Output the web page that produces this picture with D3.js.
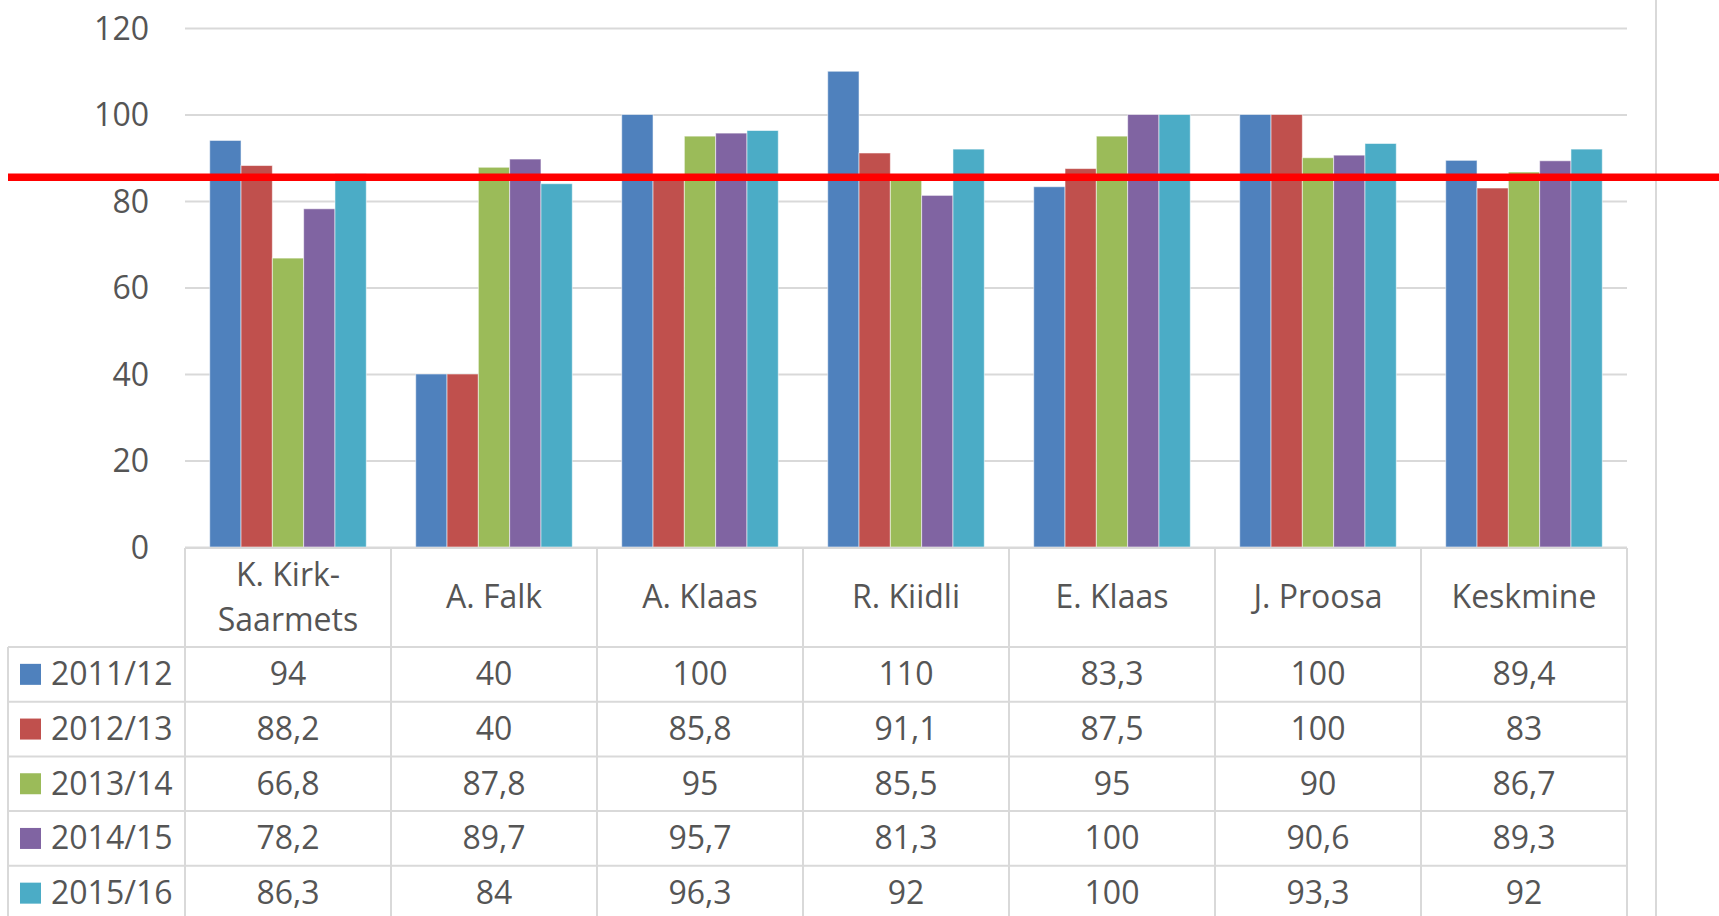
<!DOCTYPE html>
<html>
<head>
<meta charset="utf-8">
<script src="https://cdn.jsdelivr.net/npm/d3@7"></script>
<style>
  body { margin: 0; background: #fff; }
  text { font-family: "Open Sans", sans-serif; fill: #555555; }
</style>
</head>
<body>
<svg id="chart"></svg>
<script>
// data
const categories = ["K. Kirk-Saarmets", "A. Falk", "A. Klaas", "R. Kiidli", "E. Klaas", "J. Proosa", "Keskmine"];
const seriesNames = ["2011/12", "2012/13", "2013/14", "2014/15", "2015/16"];
const values2011 = [94, 40, 100, 110, 83.3, 100, 89.4];
const values2012 = [88.2, 40, 85.8, 91.1, 87.5, 100, 83];
const values2013 = [66.8, 87.8, 95, 85.5, 95, 90, 86.7];
const values2014 = [78.2, 89.7, 95.7, 81.3, 100, 90.6, 89.3];
const values2015 = [86.3, 84, 96.3, 92, 100, 93.3, 92];
const seriesColors = ["#4f81bd", "#c0504d", "#9bbb59", "#8064a2", "#4bacc6"];
const yTicks = [0, 20, 40, 60, 80, 100, 120];
const targetValue = 85.5;

const seriesValues = [values2011, values2012, values2013, values2014, values2015];

const W = 1719, H = 916;
const plot = { left: 185, right: 1627, top: 28, bottom: 547 };
const tableLeft = 8;
const headerBottom = 647;
const rowH = 54.7;
const fontSize = 32;
const grid = "#d9d9d9";

const svg = d3.select("#chart").attr("width", W).attr("height", H);

const x0 = d3.scaleBand().domain(categories).range([plot.left, plot.right]).padding(0);
const gap = x0.bandwidth() * 0.12;
const x1 = d3.scaleBand().domain(seriesNames).range([gap, x0.bandwidth() - gap]).padding(0);
const y = d3.scaleLinear().domain([0, 120]).range([plot.bottom, plot.top]);

// outer right border line
svg.append("line")
    .attr("x1", 1656).attr("x2", 1656)
    .attr("y1", 0).attr("y2", H)
    .attr("stroke", grid).attr("stroke-width", 2);

// y axis with gridlines
const yAxis = d3.axisLeft(y).tickValues(yTicks)
    .tickSize(-(plot.right - plot.left)).tickPadding(36);

const yAxisG = svg.append("g")
    .attr("transform", `translate(${plot.left},0)`)
    .call(yAxis);
yAxisG.select(".domain").remove();
yAxisG.selectAll(".tick line").attr("stroke", grid).attr("stroke-width", 2);
yAxisG.selectAll(".tick text")
    .attr("font-size", fontSize)
    .attr("fill", "#555555")
    .attr("font-family", "'Open Sans', sans-serif")
    .attr("dy", "0.35em");

// bars
const groups = svg.append("g").selectAll("g")
    .data(categories)
    .join("g")
    .attr("transform", d => `translate(${x0(d)},0)`);

groups.selectAll("rect")
    .data((c, ci) => seriesNames.map((s, si) => ({ s, si, v: seriesValues[si][ci] })))
    .join("rect")
    .attr("x", d => x1(d.s))
    .attr("width", x1.bandwidth())
    .attr("y", d => y(d.v))
    .attr("height", d => y(0) - y(d.v))
    .attr("fill", d => seriesColors[d.si])
    .attr("stroke", "rgba(255,255,255,0.55)")
    .attr("stroke-width", 1);

// data table
const table = svg.append("g");
const rowTop = i => headerBottom + i * rowH;
const tableBottom = rowTop(seriesNames.length);

// horizontal lines
table.append("line")
    .attr("x1", plot.left).attr("x2", plot.right)
    .attr("y1", plot.bottom + 1).attr("y2", plot.bottom + 1)
    .attr("stroke", grid).attr("stroke-width", 2);
d3.range(seriesNames.length + 1).forEach(i => {
    table.append("line")
        .attr("x1", tableLeft).attr("x2", plot.right)
        .attr("y1", rowTop(i)).attr("y2", rowTop(i))
        .attr("stroke", grid).attr("stroke-width", 2);
});
// vertical lines
table.append("line")
    .attr("x1", tableLeft).attr("x2", tableLeft)
    .attr("y1", headerBottom).attr("y2", tableBottom)
    .attr("stroke", grid).attr("stroke-width", 2);
categories.concat([null]).forEach((c, i) => {
    const xx = c ? x0(c) : plot.right;
    table.append("line")
        .attr("x1", xx).attr("x2", xx)
        .attr("y1", plot.bottom + 1).attr("y2", tableBottom)
        .attr("stroke", grid).attr("stroke-width", 2);
});

// header labels
const headerMid = 608;
categories.forEach(c => {
    const lines = c.includes("-") ? [c.slice(0, c.indexOf("-") + 1), c.slice(c.indexOf("-") + 1)] : [c];
    const t = table.append("text")
        .attr("x", x0(c) + x0.bandwidth() / 2)
        .attr("text-anchor", "middle")
        .attr("font-size", fontSize);
    lines.forEach((ln, li) => {
        t.append("tspan")
            .attr("x", x0(c) + x0.bandwidth() / 2)
            .attr("y", headerMid + (li - (lines.length - 1) / 2) * 45)
            .text(ln);
    });
});

// rows
const fmt = v => String(v).replace(".", ",");
seriesNames.forEach((s, si) => {
    const mid = rowTop(si) + rowH / 2;
    table.append("rect")
        .attr("x", 20).attr("y", mid - 10.5)
        .attr("width", 21).attr("height", 21)
        .attr("fill", seriesColors[si]);
    table.append("text")
        .attr("x", 51).attr("y", mid + 11)
        .attr("font-size", fontSize)
        .text(s);
    categories.forEach((c, ci) => {
        table.append("text")
            .attr("x", x0(c) + x0.bandwidth() / 2)
            .attr("y", mid + 11)
            .attr("text-anchor", "middle")
            .attr("font-size", fontSize)
            .text(fmt(seriesValues[si][ci]));
    });
});

// red reference line
svg.append("line")
    .attr("x1", 8).attr("x2", W)
    .attr("y1", y(targetValue)).attr("y2", y(targetValue))
    .attr("stroke", "#ff0000").attr("stroke-width", 7.5);
</script>
</body>
</html>
